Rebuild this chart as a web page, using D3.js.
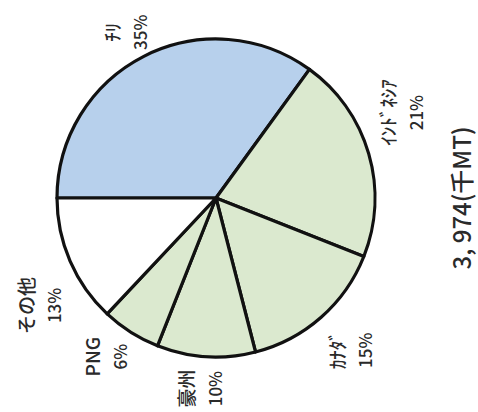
<!DOCTYPE html>
<html>
<head>
<meta charset="utf-8">
<script src="https://cdn.jsdelivr.net/npm/d3@7"></script>
<style>
body { margin: 0; background: #fff; }
</style>
</head>
<body>
<script>
// chart data
const names = ["ﾁﾘ", "ｲﾝﾄﾞﾈｼｱ", "ｶﾅﾀﾞ", "豪州", "PNG", "その他"];
const shares = [35, 21, 15, 10, 6, 13];
const totalLabel = "3, 974(千MT)";

// create svg canvas
const canvWidth = 478, canvHeight = 412;
const svg = d3.select("body").append("svg")
    .attr("width", canvWidth)
    .attr("height", canvHeight);

const cx = 216, cy = 198, radius = 159;

// the whole chart is printed turned a quarter turn to the left
const g = svg.append("g")
    .attr("transform", "translate(" + cx + "," + cy + ") rotate(-90)");

const color = d3.scaleOrdinal()
    .domain(names)
    .range(["#b7d0ec", "#dbe9cf", "#dbe9cf", "#dbe9cf", "#dbe9cf", "#ffffff"]);

const data = names.map((n, i) => ({name: n, share: shares[i]}));

const pie = d3.pie().sort(null).value(d => d.share);
const arcs = pie(data);

const arc = d3.arc().innerRadius(0).outerRadius(radius);

g.selectAll("path")
    .data(arcs)
    .enter()
    .append("path")
    .attr("d", arc)
    .style("fill", d => color(d.data.name))
    .style("stroke", "#111")
    .style("stroke-width", 3.2)
    .style("stroke-linejoin", "round");

// labels sit round the pie, a few nudged off the mid angle
const labelArc = d3.arc().innerRadius(195).outerRadius(195);
const nudge = [[-8, 0], [31, 0], [-6, 7], [4, -2], [6, -4], [-30, 4]];
const lineGap = 14;

const labels = g.selectAll(".label")
    .data(arcs)
    .enter()
    .append("g")
    .attr("class", "label")
    .attr("transform", (d, i) => {
        const c = labelArc.centroid(d);
        return "translate(" + (c[0] + nudge[i][0]) + "," + (c[1] + nudge[i][1]) + ")";
    });

labels.append("text")
    .attr("y", -lineGap)
    .attr("dy", "0.35em")
    .attr("text-anchor", "middle")
    .attr("font-family", "'Noto Sans CJK JP', sans-serif")
    .attr("font-size", "19px")
    .attr("font-weight", 500)
    .attr("fill", "#2a2a2a")
    .text(d => d.data.name);

labels.append("text")
    .attr("y", lineGap)
    .attr("dy", "0.35em")
    .attr("text-anchor", "middle")
    .attr("font-family", "'Noto Sans CJK JP', sans-serif")
    .attr("font-size", "17px")
    .attr("font-weight", 500)
    .attr("fill", "#2a2a2a")
    .text(d => d.data.share + "%");

// total under the pie
g.append("text")
    .attr("x", 0)
    .attr("y", 247)
    .attr("dy", "0.35em")
    .attr("text-anchor", "middle")
    .attr("font-family", "'Noto Sans CJK JP', sans-serif")
    .attr("font-size", "24px")
    .attr("font-weight", 500)
    .attr("fill", "#2a2a2a")
    .text(totalLabel);
</script>
</body>
</html>
